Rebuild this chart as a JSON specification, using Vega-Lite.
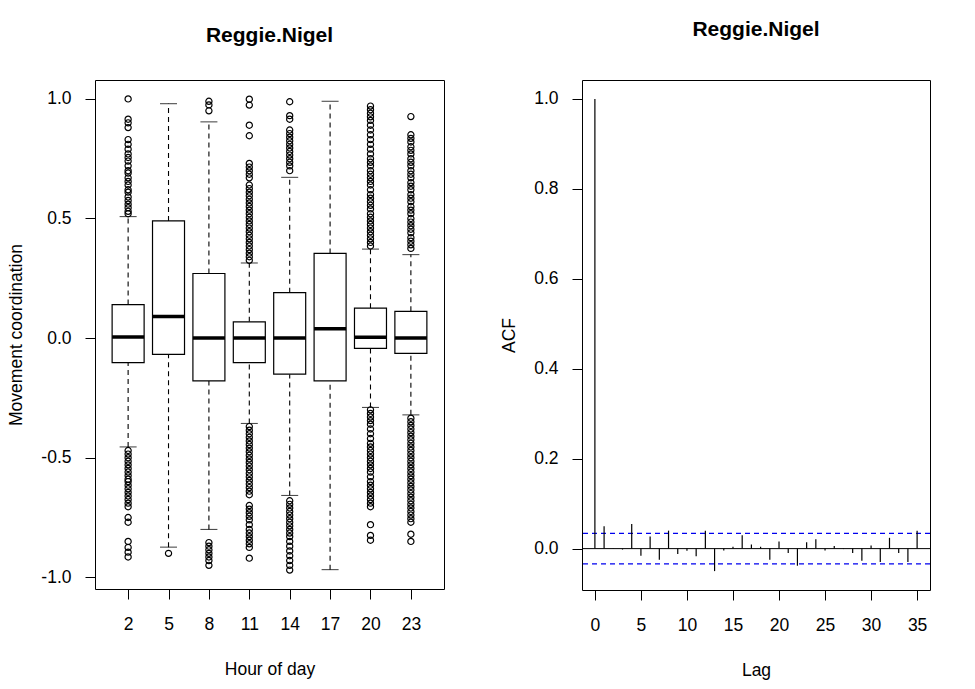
{
  "$schema": "https://vega.github.io/schema/vega-lite/v6.json",
  "background": "white",
  "padding": {"left": 7, "top": 18, "right": 5, "bottom": 5},
  "config": {
    "font": "Liberation Sans",
    "locale": {"number": {"decimal": ".", "thousands": ",", "grouping": [3], "currency": ["$", ""], "minus": "-"}},
    "view": {"stroke": "#000000", "strokeWidth": 1},
    "axis": {
      "grid": false, "domain": false, "ticks": true, "tickSize": 10, "tickColor": "#000000",
      "labelFontSize": 17.5, "titleFontSize": 17.5, "labelColor": "#000000", "titleColor": "#000000",
      "titleFontWeight": "normal"
    },
    "axisX": {"labelPadding": 16, "titlePadding": 28},
    "axisY": {"labelPadding": 14, "titlePadding": 15},
    "title": {"fontSize": 21, "fontWeight": "bold", "color": "#000000"}
  },
  "datasets": {
    "boxes": [
      {"hour": 2, "lower": -0.455, "q1": -0.103, "median": 0.005, "q3": 0.14, "upper": 0.508},
      {"hour": 5, "lower": -0.874, "q1": -0.068, "median": 0.09, "q3": 0.49, "upper": 0.98},
      {"hour": 8, "lower": -0.80, "q1": -0.179, "median": 0.0, "q3": 0.27, "upper": 0.904},
      {"hour": 11, "lower": -0.357, "q1": -0.103, "median": 0.0, "q3": 0.068, "upper": 0.314},
      {"hour": 14, "lower": -0.658, "q1": -0.151, "median": 0.0, "q3": 0.19, "upper": 0.672},
      {"hour": 17, "lower": -0.968, "q1": -0.179, "median": 0.039, "q3": 0.354, "upper": 0.99},
      {"hour": 20, "lower": -0.29, "q1": -0.043, "median": 0.004, "q3": 0.125, "upper": 0.372},
      {"hour": 23, "lower": -0.321, "q1": -0.064, "median": 0.0, "q3": 0.112, "upper": 0.349}
    ],
    "outliers": [
      {"hour": 2, "value": 1.0}, {"hour": 2, "value": 0.915}, {"hour": 2, "value": 0.9}, {"hour": 2, "value": 0.88},
      {"hour": 2, "value": 0.83}, {"hour": 2, "value": 0.81}, {"hour": 2, "value": 0.79}, {"hour": 2, "value": 0.77},
      {"hour": 2, "value": 0.755}, {"hour": 2, "value": 0.74}, {"hour": 2, "value": 0.72}, {"hour": 2, "value": 0.7},
      {"hour": 2, "value": 0.69}, {"hour": 2, "value": 0.67}, {"hour": 2, "value": 0.655}, {"hour": 2, "value": 0.64},
      {"hour": 2, "value": 0.62}, {"hour": 2, "value": 0.61}, {"hour": 2, "value": 0.59}, {"hour": 2, "value": 0.575},
      {"hour": 2, "value": 0.56}, {"hour": 2, "value": 0.545}, {"hour": 2, "value": 0.53}, {"hour": 2, "value": 0.52},
      {"hour": 2, "value": -0.47}, {"hour": 2, "value": -0.485}, {"hour": 2, "value": -0.5}, {"hour": 2, "value": -0.515},
      {"hour": 2, "value": -0.53}, {"hour": 2, "value": -0.545}, {"hour": 2, "value": -0.56}, {"hour": 2, "value": -0.575},
      {"hour": 2, "value": -0.59}, {"hour": 2, "value": -0.6}, {"hour": 2, "value": -0.615}, {"hour": 2, "value": -0.63},
      {"hour": 2, "value": -0.645}, {"hour": 2, "value": -0.66}, {"hour": 2, "value": -0.675}, {"hour": 2, "value": -0.69},
      {"hour": 2, "value": -0.705}, {"hour": 2, "value": -0.75}, {"hour": 2, "value": -0.77}, {"hour": 2, "value": -0.85},
      {"hour": 2, "value": -0.875}, {"hour": 2, "value": -0.895}, {"hour": 2, "value": -0.915},
      {"hour": 5, "value": -0.9},
      {"hour": 8, "value": 0.99}, {"hour": 8, "value": 0.975}, {"hour": 8, "value": 0.95},
      {"hour": 8, "value": -0.855}, {"hour": 8, "value": -0.87}, {"hour": 8, "value": -0.885}, {"hour": 8, "value": -0.9},
      {"hour": 8, "value": -0.915}, {"hour": 8, "value": -0.93}, {"hour": 8, "value": -0.95},
      {"hour": 11, "value": 0.999}, {"hour": 11, "value": 0.974}, {"hour": 11, "value": 0.89}, {"hour": 11, "value": 0.846},
      {"hour": 11, "value": 0.73}, {"hour": 11, "value": 0.715}, {"hour": 11, "value": 0.7}, {"hour": 11, "value": 0.685},
      {"hour": 11, "value": 0.67}, {"hour": 11, "value": 0.64}, {"hour": 11, "value": 0.625}, {"hour": 11, "value": 0.61},
      {"hour": 11, "value": 0.595}, {"hour": 11, "value": 0.58}, {"hour": 11, "value": 0.565}, {"hour": 11, "value": 0.55},
      {"hour": 11, "value": 0.535}, {"hour": 11, "value": 0.52}, {"hour": 11, "value": 0.505}, {"hour": 11, "value": 0.49},
      {"hour": 11, "value": 0.475}, {"hour": 11, "value": 0.46}, {"hour": 11, "value": 0.445}, {"hour": 11, "value": 0.43},
      {"hour": 11, "value": 0.415}, {"hour": 11, "value": 0.4}, {"hour": 11, "value": 0.385}, {"hour": 11, "value": 0.37},
      {"hour": 11, "value": 0.355}, {"hour": 11, "value": 0.34}, {"hour": 11, "value": 0.325},
      {"hour": 11, "value": -0.37}, {"hour": 11, "value": -0.385}, {"hour": 11, "value": -0.4}, {"hour": 11, "value": -0.415},
      {"hour": 11, "value": -0.43}, {"hour": 11, "value": -0.445}, {"hour": 11, "value": -0.46}, {"hour": 11, "value": -0.475},
      {"hour": 11, "value": -0.49}, {"hour": 11, "value": -0.505}, {"hour": 11, "value": -0.52}, {"hour": 11, "value": -0.535},
      {"hour": 11, "value": -0.55}, {"hour": 11, "value": -0.565}, {"hour": 11, "value": -0.58}, {"hour": 11, "value": -0.595},
      {"hour": 11, "value": -0.61}, {"hour": 11, "value": -0.625}, {"hour": 11, "value": -0.64}, {"hour": 11, "value": -0.655},
      {"hour": 11, "value": -0.7}, {"hour": 11, "value": -0.715}, {"hour": 11, "value": -0.73}, {"hour": 11, "value": -0.745},
      {"hour": 11, "value": -0.76}, {"hour": 11, "value": -0.78}, {"hour": 11, "value": -0.8}, {"hour": 11, "value": -0.815},
      {"hour": 11, "value": -0.83}, {"hour": 11, "value": -0.845}, {"hour": 11, "value": -0.86}, {"hour": 11, "value": -0.875},
      {"hour": 11, "value": -0.92},
      {"hour": 14, "value": 0.988}, {"hour": 14, "value": 0.93}, {"hour": 14, "value": 0.915}, {"hour": 14, "value": 0.87},
      {"hour": 14, "value": 0.855}, {"hour": 14, "value": 0.84}, {"hour": 14, "value": 0.825}, {"hour": 14, "value": 0.81},
      {"hour": 14, "value": 0.795}, {"hour": 14, "value": 0.78}, {"hour": 14, "value": 0.765}, {"hour": 14, "value": 0.75},
      {"hour": 14, "value": 0.735}, {"hour": 14, "value": 0.72}, {"hour": 14, "value": 0.7},
      {"hour": 14, "value": -0.68}, {"hour": 14, "value": -0.695}, {"hour": 14, "value": -0.71}, {"hour": 14, "value": -0.725},
      {"hour": 14, "value": -0.74}, {"hour": 14, "value": -0.755}, {"hour": 14, "value": -0.77}, {"hour": 14, "value": -0.785},
      {"hour": 14, "value": -0.8}, {"hour": 14, "value": -0.815}, {"hour": 14, "value": -0.83}, {"hour": 14, "value": -0.85},
      {"hour": 14, "value": -0.87}, {"hour": 14, "value": -0.89}, {"hour": 14, "value": -0.91}, {"hour": 14, "value": -0.93},
      {"hour": 14, "value": -0.95}, {"hour": 14, "value": -0.97},
      {"hour": 20, "value": 0.97}, {"hour": 20, "value": 0.955}, {"hour": 20, "value": 0.94}, {"hour": 20, "value": 0.925},
      {"hour": 20, "value": 0.91}, {"hour": 20, "value": 0.89}, {"hour": 20, "value": 0.87}, {"hour": 20, "value": 0.85},
      {"hour": 20, "value": 0.83}, {"hour": 20, "value": 0.81}, {"hour": 20, "value": 0.79}, {"hour": 20, "value": 0.77},
      {"hour": 20, "value": 0.75}, {"hour": 20, "value": 0.735}, {"hour": 20, "value": 0.72}, {"hour": 20, "value": 0.7},
      {"hour": 20, "value": 0.685}, {"hour": 20, "value": 0.67}, {"hour": 20, "value": 0.655}, {"hour": 20, "value": 0.64},
      {"hour": 20, "value": 0.62}, {"hour": 20, "value": 0.6}, {"hour": 20, "value": 0.585}, {"hour": 20, "value": 0.57},
      {"hour": 20, "value": 0.555}, {"hour": 20, "value": 0.54}, {"hour": 20, "value": 0.52}, {"hour": 20, "value": 0.505},
      {"hour": 20, "value": 0.49}, {"hour": 20, "value": 0.475}, {"hour": 20, "value": 0.46}, {"hour": 20, "value": 0.445},
      {"hour": 20, "value": 0.43}, {"hour": 20, "value": 0.415}, {"hour": 20, "value": 0.4}, {"hour": 20, "value": 0.385},
      {"hour": 20, "value": -0.3}, {"hour": 20, "value": -0.315}, {"hour": 20, "value": -0.33}, {"hour": 20, "value": -0.345},
      {"hour": 20, "value": -0.36}, {"hour": 20, "value": -0.38}, {"hour": 20, "value": -0.4}, {"hour": 20, "value": -0.42},
      {"hour": 20, "value": -0.44}, {"hour": 20, "value": -0.455}, {"hour": 20, "value": -0.47}, {"hour": 20, "value": -0.485},
      {"hour": 20, "value": -0.5}, {"hour": 20, "value": -0.515}, {"hour": 20, "value": -0.53}, {"hour": 20, "value": -0.545},
      {"hour": 20, "value": -0.56}, {"hour": 20, "value": -0.58}, {"hour": 20, "value": -0.6}, {"hour": 20, "value": -0.615},
      {"hour": 20, "value": -0.63}, {"hour": 20, "value": -0.645}, {"hour": 20, "value": -0.66}, {"hour": 20, "value": -0.675},
      {"hour": 20, "value": -0.69}, {"hour": 20, "value": -0.705}, {"hour": 20, "value": -0.78}, {"hour": 20, "value": -0.825},
      {"hour": 20, "value": -0.845},
      {"hour": 23, "value": 0.926}, {"hour": 23, "value": 0.85}, {"hour": 23, "value": 0.835}, {"hour": 23, "value": 0.82},
      {"hour": 23, "value": 0.8}, {"hour": 23, "value": 0.785}, {"hour": 23, "value": 0.77}, {"hour": 23, "value": 0.75},
      {"hour": 23, "value": 0.735}, {"hour": 23, "value": 0.72}, {"hour": 23, "value": 0.7}, {"hour": 23, "value": 0.685},
      {"hour": 23, "value": 0.67}, {"hour": 23, "value": 0.65}, {"hour": 23, "value": 0.635}, {"hour": 23, "value": 0.62},
      {"hour": 23, "value": 0.6}, {"hour": 23, "value": 0.585}, {"hour": 23, "value": 0.57}, {"hour": 23, "value": 0.55},
      {"hour": 23, "value": 0.535}, {"hour": 23, "value": 0.52}, {"hour": 23, "value": 0.5}, {"hour": 23, "value": 0.485},
      {"hour": 23, "value": 0.47}, {"hour": 23, "value": 0.455}, {"hour": 23, "value": 0.44}, {"hour": 23, "value": 0.42},
      {"hour": 23, "value": 0.405}, {"hour": 23, "value": 0.39}, {"hour": 23, "value": 0.375},
      {"hour": 23, "value": -0.335}, {"hour": 23, "value": -0.35}, {"hour": 23, "value": -0.365}, {"hour": 23, "value": -0.38},
      {"hour": 23, "value": -0.395}, {"hour": 23, "value": -0.41}, {"hour": 23, "value": -0.425}, {"hour": 23, "value": -0.44},
      {"hour": 23, "value": -0.455}, {"hour": 23, "value": -0.47}, {"hour": 23, "value": -0.485}, {"hour": 23, "value": -0.5},
      {"hour": 23, "value": -0.515}, {"hour": 23, "value": -0.53}, {"hour": 23, "value": -0.545}, {"hour": 23, "value": -0.56},
      {"hour": 23, "value": -0.575}, {"hour": 23, "value": -0.59}, {"hour": 23, "value": -0.605}, {"hour": 23, "value": -0.62},
      {"hour": 23, "value": -0.635}, {"hour": 23, "value": -0.65}, {"hour": 23, "value": -0.665}, {"hour": 23, "value": -0.68},
      {"hour": 23, "value": -0.695}, {"hour": 23, "value": -0.71}, {"hour": 23, "value": -0.725}, {"hour": 23, "value": -0.74},
      {"hour": 23, "value": -0.755}, {"hour": 23, "value": -0.77}, {"hour": 23, "value": -0.82}, {"hour": 23, "value": -0.85}
    ],
    "acf": [
      {"lag": 0, "acf": 1.0}, {"lag": 1, "acf": 0.05}, {"lag": 2, "acf": 0.001}, {"lag": 3, "acf": -0.002},
      {"lag": 4, "acf": 0.055}, {"lag": 5, "acf": -0.016}, {"lag": 6, "acf": 0.027}, {"lag": 7, "acf": -0.025},
      {"lag": 8, "acf": 0.04}, {"lag": 9, "acf": -0.012}, {"lag": 10, "acf": -0.005}, {"lag": 11, "acf": -0.017},
      {"lag": 12, "acf": 0.04}, {"lag": 13, "acf": -0.05}, {"lag": 14, "acf": -0.004}, {"lag": 15, "acf": 0.004},
      {"lag": 16, "acf": 0.03}, {"lag": 17, "acf": 0.009}, {"lag": 18, "acf": 0.004}, {"lag": 19, "acf": -0.025},
      {"lag": 20, "acf": 0.016}, {"lag": 21, "acf": -0.01}, {"lag": 22, "acf": -0.038}, {"lag": 23, "acf": 0.014},
      {"lag": 24, "acf": 0.021}, {"lag": 25, "acf": -0.004}, {"lag": 26, "acf": 0.006}, {"lag": 27, "acf": -0.001},
      {"lag": 28, "acf": -0.01}, {"lag": 29, "acf": -0.027}, {"lag": 30, "acf": 0.007}, {"lag": 31, "acf": -0.03},
      {"lag": 32, "acf": 0.024}, {"lag": 33, "acf": -0.01}, {"lag": 34, "acf": -0.03}, {"lag": 35, "acf": 0.04}
    ],
    "ci": [{"bound": 0.034}, {"bound": -0.034}]
  },
  "hconcat": [
    {
      "width": 349,
      "height": 509,
      "title": {"text": "Reggie.Nigel", "baseline": "alphabetic", "offset": 17},
      "encoding": {
        "x": {
          "field": "hour", "type": "ordinal",
          "scale": {"type": "point", "padding": 0.82},
          "axis": {"title": "Hour of day", "labelAngle": 0}
        }
      },
      "layer": [
        {
          "data": {"name": "boxes"},
          "mark": {"type": "rule", "color": "#000000", "strokeWidth": 1.1, "strokeDash": [5, 4]},
          "encoding": {
            "y": {
              "field": "lower", "type": "quantitative",
              "scale": {"domain": [-1.049, 1.079], "nice": false, "zero": false},
              "axis": {"title": "Movement coordination", "values": [-1, -0.5, 0, 0.5, 1], "format": ".1f"}
            },
            "y2": {"field": "q1"}
          }
        },
        {
          "data": {"name": "boxes"},
          "mark": {"type": "rule", "color": "#000000", "strokeWidth": 1.1, "strokeDash": [5, 4]},
          "encoding": {"y": {"field": "q3", "type": "quantitative"}, "y2": {"field": "upper"}}
        },
        {
          "data": {"name": "boxes"},
          "mark": {"type": "tick", "color": "#000000", "size": 17, "thickness": 1.1, "orient": "horizontal"},
          "encoding": {"y": {"field": "lower", "type": "quantitative"}}
        },
        {
          "data": {"name": "boxes"},
          "mark": {"type": "tick", "color": "#000000", "size": 17, "thickness": 1.1, "orient": "horizontal"},
          "encoding": {"y": {"field": "upper", "type": "quantitative"}}
        },
        {
          "data": {"name": "boxes"},
          "mark": {"type": "bar", "size": 32, "fill": "#ffffff", "stroke": "#000000", "strokeWidth": 1.2},
          "encoding": {"y": {"field": "q1", "type": "quantitative"}, "y2": {"field": "q3"}}
        },
        {
          "data": {"name": "boxes"},
          "mark": {"type": "tick", "color": "#000000", "size": 32, "thickness": 3.5, "orient": "horizontal", "opacity": 1},
          "encoding": {"y": {"field": "median", "type": "quantitative"}}
        },
        {
          "data": {"name": "outliers"},
          "mark": {"type": "point", "shape": "circle", "filled": false, "stroke": "#000000", "strokeWidth": 1.2, "size": 38, "opacity": 1},
          "encoding": {"y": {"field": "value", "type": "quantitative"}}
        }
      ]
    },
    {
      "width": 348,
      "height": 510,
      "title": {"text": "Reggie.Nigel", "baseline": "alphabetic", "offset": 23},
      "layer": [
        {
          "data": {"name": "ci"},
          "mark": {"type": "rule", "color": "#0000ee", "strokeWidth": 1.2, "strokeDash": [5, 4]},
          "encoding": {
            "y": {
              "field": "bound", "type": "quantitative",
              "scale": {"domain": [-0.092, 1.042], "nice": false, "zero": false},
              "axis": {"title": "ACF", "values": [0, 0.2, 0.4, 0.6, 0.8, 1.0], "format": ".1f"}
            }
          }
        },
        {
          "data": {"values": [{"zero": 0}]},
          "mark": {"type": "rule", "color": "#000000", "strokeWidth": 1},
          "encoding": {"y": {"field": "zero", "type": "quantitative"}}
        },
        {
          "data": {"name": "acf"},
          "mark": {"type": "rule", "color": "#000000", "strokeWidth": 1.2},
          "encoding": {
            "x": {
              "field": "lag", "type": "quantitative",
              "scale": {"domain": [-1.4, 36.4], "nice": false, "zero": false},
              "axis": {"title": "Lag", "values": [0, 5, 10, 15, 20, 25, 30, 35]}
            },
            "y": {"field": "acf", "type": "quantitative"},
            "y2": {"datum": 0}
          }
        }
      ]
    }
  ],
  "spacing": 55
}
